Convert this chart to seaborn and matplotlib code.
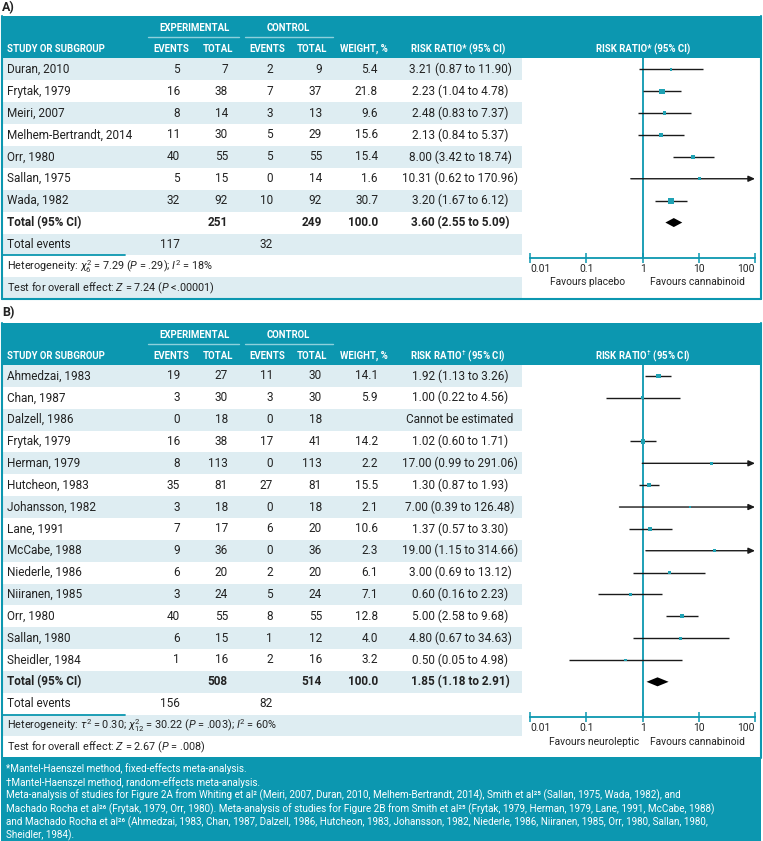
import numpy as np
import pandas as pd
import matplotlib
matplotlib.use("Agg")
import matplotlib.pyplot as plt
from matplotlib import font_manager
from matplotlib.patches import Rectangle, Polygon
from matplotlib.ticker import NullLocator
import seaborn as sns

# ---------------- data: panel A ----------------
studies_a = ["Duran, 2010", "Frytak, 1979", "Meiri, 2007", "Melhem-Bertrandt, 2014",
             "Orr, 1980", "Sallan, 1975", "Wada, 1982"]
exp_events_a = [5, 16, 8, 11, 40, 5, 32]
exp_total_a = [7, 38, 14, 30, 55, 15, 92]
ctl_events_a = [2, 7, 3, 5, 5, 0, 10]
ctl_total_a = [9, 37, 13, 29, 55, 14, 92]
weight_a = [5.4, 21.8, 9.6, 15.6, 15.4, 1.6, 30.7]
rr_a = [3.21, 2.23, 2.48, 2.13, 8.00, 10.31, 3.20]
lo_a = [0.87, 1.04, 0.83, 0.84, 3.42, 0.62, 1.67]
hi_a = [11.90, 4.78, 7.37, 5.37, 18.74, 170.96, 6.12]
total_a = [3.60, 2.55, 5.09]          # pooled RR, lower, upper
total_n_a = [251, 249]
total_weight_a = 100.0
total_events_a = [117, 32]
het_a = r"Heterogeneity: $\chi^2_6$ = 7.29 ($P$ = .29); $I^2$ = 18%"
test_a = r"Test for overall effect: $Z$ = 7.24 ($P$ <.00001)"
favours_a = ["Favours placebo", "Favours cannabinoid"]

# ---------------- data: panel B ----------------
studies_b = ["Ahmedzai, 1983", "Chan, 1987", "Dalzell, 1986", "Frytak, 1979", "Herman, 1979",
             "Hutcheon, 1983", "Johansson, 1982", "Lane, 1991", "McCabe, 1988",
             "Niederle, 1986", "Niiranen, 1985", "Orr, 1980", "Sallan, 1980", "Sheidler, 1984"]
exp_events_b = [19, 3, 0, 16, 8, 35, 3, 7, 9, 6, 3, 40, 6, 1]
exp_total_b = [27, 30, 18, 38, 113, 81, 18, 17, 36, 20, 24, 55, 15, 16]
ctl_events_b = [11, 3, 0, 17, 0, 27, 0, 6, 0, 2, 5, 8, 1, 2]
ctl_total_b = [30, 30, 18, 41, 113, 81, 18, 20, 36, 20, 24, 55, 12, 16]
weight_b = [14.1, 5.9, np.nan, 14.2, 2.2, 15.5, 2.1, 10.6, 2.3, 6.1, 7.1, 12.8, 4.0, 3.2]
rr_b = [1.92, 1.00, np.nan, 1.02, 17.00, 1.30, 7.00, 1.37, 19.00, 3.00, 0.60, 5.00, 4.80, 0.50]
lo_b = [1.13, 0.22, np.nan, 0.60, 0.99, 0.87, 0.39, 0.57, 1.15, 0.69, 0.16, 2.58, 0.67, 0.05]
hi_b = [3.26, 4.56, np.nan, 1.71, 291.06, 1.93, 126.48, 3.30, 314.66, 13.12, 2.23, 9.68, 34.63, 4.98]
total_b = [1.85, 1.18, 2.91]
total_n_b = [508, 514]
total_weight_b = 100.0
total_events_b = [156, 82]
het_b = r"Heterogeneity: $\tau^2$ = 0.30; $\chi^2_{12}$ = 30.22 ($P$ = .003); $I^2$ = 60%"
test_b = r"Test for overall effect: $Z$ = 2.67 ($P$ = .008)"
favours_b = ["Favours neuroleptic", "Favours cannabinoid"]

axis_ticks = [0.01, 0.1, 1, 10, 100]
axis_ticklabels = ["0.01", "0.1", "1", "10", "100"]

footnotes = [
    "*Mantel-Haenszel method, fixed-effects meta-analysis.",
    "\u2020Mantel-Haenszel method, random-effects meta-analysis.",
    "Meta-analysis of studies for Figure 2A from Whiting et al\u00b2 (Meiri, 2007, Duran, 2010, "
    "Melhem-Bertrandt, 2014), Smith et al\u00b2\u2075 (Sallan, 1975, Wada, 1982), and",
    "Machado Rocha et al\u00b2\u2076 (Frytak, 1979, Orr, 1980). Meta-analysis of studies for Figure 2B "
    "from Smith et al\u00b2\u2075 (Frytak, 1979, Herman, 1979, Lane, 1991, McCabe, 1988)",
    "and Machado Rocha et al\u00b2\u2076 (Ahmedzai, 1983, Chan, 1987, Dalzell, 1986, Hutcheon, 1983, "
    "Johansson, 1982, Niederle, 1986, Niiranen, 1985, Orr, 1980, Sallan, 1980,",
    "Sheidler, 1984).",
]

# ---------------- style ----------------
sns.set_theme(style="white")
names = {f.name for f in font_manager.fontManager.ttflist}
MAIN = "Roboto" if "Roboto" in names else "DejaVu Sans"
plt.rcParams["font.family"] = [MAIN, "DejaVu Sans"]
plt.rcParams["mathtext.fontset"] = "custom"
plt.rcParams["mathtext.rm"] = MAIN
plt.rcParams["mathtext.it"] = MAIN + ":italic"
plt.rcParams["mathtext.bf"] = MAIN + ":bold"

TEAL = "#0c97b0"
LIGHT = "#deedf2"
MARK = "#1fa2b4"
TEXT = "#222222"
LINE = "#1a1a1a"
ULINE = "#8ed0dc"

W, H = 763, 841
fig = plt.figure(figsize=(W / 100, H / 100), dpi=100)
bg = fig.add_axes([0, 0, 1, 1])
bg.set_xlim(0, W)
bg.set_ylim(H, 0)
bg.axis("off")

BOX_L, BOX_R = 1.5, 760.5
SHADE_R = 522
COL = dict(study=7, ee=180, et=228, ce=273, ct=322, w=378, rr=460)
FX0, FX1 = 530, 755
FS = 8.5          # table body
FS_SMALL = 7.8    # heterogeneity / test rows
FS_AXIS = 7.4     # tick labels and favours labels
FS_FOOT = 7.1


def fmt_rr(r, l, h):
    if np.isnan(r):
        return "Cannot be estimated"
    return f"{r:.2f} ({l:.2f} to {h:.2f})"


def draw_panel(label, label_y, htop, hbot, rowh, star, studies, ee, et, ce, ct, wt,
               rr, lo, hi, tot, tot_n, tot_w, tot_ev, het, test, favours, fav_right,
               box_bottom_line=True):
    n = len(studies)
    nrows = n + 4
    bottom = hbot + nrows * rowh
    bg.text(2, label_y, label, fontsize=9, fontweight="bold", color=TEXT, va="center")
    # header
    bg.add_patch(Rectangle((BOX_L - 0.5, htop), BOX_R - BOX_L + 1, hbot - htop, color=TEAL, lw=0))
    y1 = htop + 12
    y2 = htop + 33
    hk = dict(color="white", fontsize=6.9, fontweight="bold", va="center")
    bg.text(194, y1, "EXPERIMENTAL", ha="center", **hk)
    bg.text(288, y1, "CONTROL", ha="center", **hk)
    bg.plot([148, 239], [htop + 21, htop + 21], color=ULINE, lw=1)
    bg.plot([245, 333], [htop + 21, htop + 21], color=ULINE, lw=1)
    bg.text(COL["study"], y2, "STUDY OR SUBGROUP", ha="left", **hk)
    rr_head = "RISK RATIO" + star + " (95% CI)"
    for x, t in [(171, "EVENTS"), (218, "TOTAL"), (267, "EVENTS"), (312, "TOTAL"),
                 (364, "WEIGHT, %"), (458, rr_head), (643, rr_head)]:
        bg.text(x, y2, t, ha="center", **hk)
    # row shading
    for i in range(nrows):
        if i % 2 == 0:
            bg.add_patch(Rectangle((BOX_L, hbot + i * rowh), SHADE_R - BOX_L, rowh,
                                   color=LIGHT, lw=0))
    # border
    bg.plot([BOX_L, BOX_L], [htop, bottom], color=TEAL, lw=1.5)
    bg.plot([BOX_R, BOX_R], [htop, bottom], color=TEAL, lw=1.5)
    if box_bottom_line:
        bg.plot([BOX_L, BOX_R], [bottom, bottom], color=TEAL, lw=1.5)
    tk = dict(fontsize=FS, color=TEXT, va="center")
    for i in range(n):
        y = hbot + (i + 0.5) * rowh
        bg.text(COL["study"], y, studies[i], ha="left", **tk)
        bg.text(COL["ee"], y, str(ee[i]), ha="right", **tk)
        bg.text(COL["et"], y, str(et[i]), ha="right", **tk)
        bg.text(COL["ce"], y, str(ce[i]), ha="right", **tk)
        bg.text(COL["ct"], y, str(ct[i]), ha="right", **tk)
        if not np.isnan(wt[i]):
            bg.text(COL["w"], y, f"{wt[i]:.1f}", ha="right", **tk)
        bg.text(COL["rr"], y, fmt_rr(rr[i], lo[i], hi[i]), ha="center", **tk)
    # totals
    y = hbot + (n + 0.5) * rowh
    bk = dict(tk, fontweight="bold")
    bg.text(COL["study"], y, "Total (95% CI)", ha="left", **bk)
    bg.text(COL["et"], y, str(tot_n[0]), ha="right", **bk)
    bg.text(COL["ct"], y, str(tot_n[1]), ha="right", **bk)
    bg.text(COL["w"], y, f"{tot_w:.1f}", ha="right", **bk)
    bg.text(COL["rr"], y, fmt_rr(*tot), ha="center", **bk)
    y = hbot + (n + 1.5) * rowh
    bg.text(COL["study"], y, "Total events", ha="left", **tk)
    bg.text(COL["ee"], y, str(tot_ev[0]), ha="right", **tk)
    bg.text(COL["ce"], y, str(tot_ev[1]), ha="right", **tk)
    bg.plot([BOX_L, 125], [hbot + (n + 2) * rowh, hbot + (n + 2) * rowh], color=TEAL, lw=1.3)
    nk = dict(fontsize=FS_SMALL, color=TEXT, va="center")
    bg.text(COL["study"], hbot + (n + 2.5) * rowh, het, ha="left", **nk)
    bg.text(COL["study"], hbot + (n + 3.5) * rowh, test, ha="left", **nk)

    # forest plot
    axis_y = hbot + (n + 2) * rowh + 2.5
    ax = fig.add_axes([FX0 / W, 1 - axis_y / H, (FX1 - FX0) / W, (axis_y - hbot) / H])
    ax.set_facecolor("none")
    ax.set_xscale("log")
    ax.set_xlim(axis_ticks[0], axis_ticks[-1])
    ax.set_ylim(axis_y, hbot)
    ax.axvline(1, color=TEAL, lw=1.3, zorder=1)
    rows_y = hbot + (np.arange(n) + 0.5) * rowh
    df = pd.DataFrame(dict(y=rows_y, rr=rr, lo=lo, hi=hi, w=wt)).dropna()
    for _, r in df.iterrows():
        if r.hi > axis_ticks[-1]:
            ax.annotate("", xy=(axis_ticks[-1], r.y), xytext=(r.lo, r.y),
                        arrowprops=dict(arrowstyle="-|>,head_length=0.55,head_width=0.25",
                                        color=LINE, lw=1.0, shrinkA=0, shrinkB=0,
                                        mutation_scale=7),
                        annotation_clip=False, zorder=2)
        else:
            ax.hlines(r.y, r.lo, r.hi, color=LINE, lw=1.0, zorder=2)
    side_px = np.maximum(2.8, 1.12 * np.sqrt(df["w"].to_numpy()))
    sns.scatterplot(x=df["rr"].to_numpy(), y=df["y"].to_numpy(), s=(side_px * 0.72) ** 2,
                    marker="s", color=MARK, linewidth=0, ax=ax, zorder=3, legend=False)
    ty = hbot + (n + 0.5) * rowh
    dh = 4.5
    ax.add_patch(Polygon([(tot[1], ty), (tot[0], ty - dh), (tot[2], ty), (tot[0], ty + dh)],
                         closed=True, color="black", lw=0, zorder=3))
    for s in ["top", "left", "right"]:
        ax.spines[s].set_visible(False)
    ax.spines["bottom"].set_color(TEAL)
    ax.spines["bottom"].set_linewidth(1.3)
    ax.set_xticks(axis_ticks)
    ax.set_xticklabels(axis_ticklabels)
    ax.xaxis.set_minor_locator(NullLocator())
    ax.set_yticks([])
    ax.tick_params(axis="x", bottom=True, direction="inout", length=7, width=1.1, color=TEAL,
                   labelsize=FS_AXIS, labelcolor=TEXT, pad=1.0)
    labels = ax.get_xticklabels()
    labels[0].set_horizontalalignment("left")
    labels[-1].set_horizontalalignment("right")
    ax.grid(False)
    fy = axis_y + 24.5
    fk = dict(fontsize=FS_AXIS, color=TEXT, va="center")
    bg.text(fav_right, fy, favours[0], ha="right", **fk)
    bg.text(650, fy, favours[1], ha="left", **fk)
    return bottom


draw_panel("A)", 8, 16, 58.3, 21.9, "*", studies_a, exp_events_a, exp_total_a, ctl_events_a,
           ctl_total_a, weight_a, rr_a, lo_a, hi_a, total_a, total_n_a, total_weight_a,
           total_events_a, het_a, test_a, favours_a, 625)
bot_b = draw_panel("B)", 313, 323, 365, 21.85, "$^{\u2020}$", studies_b, exp_events_b,
                   exp_total_b, ctl_events_b, ctl_total_b, weight_b, rr_b, lo_b, hi_b, total_b,
                   total_n_b, total_weight_b, total_events_b, het_b, test_b, favours_b, 639,
                   box_bottom_line=False)

# footer
bg.add_patch(Rectangle((BOX_L - 0.5, bot_b - 1), BOX_R - BOX_L + 1, H - bot_b + 1, color=TEAL, lw=0))
for i, line in enumerate(footnotes):
    bg.text(6, 769 + i * 13.3, line, ha="left", va="center", color="white",
            fontsize=FS_FOOT)

fig.savefig("out.png", dpi=100)
